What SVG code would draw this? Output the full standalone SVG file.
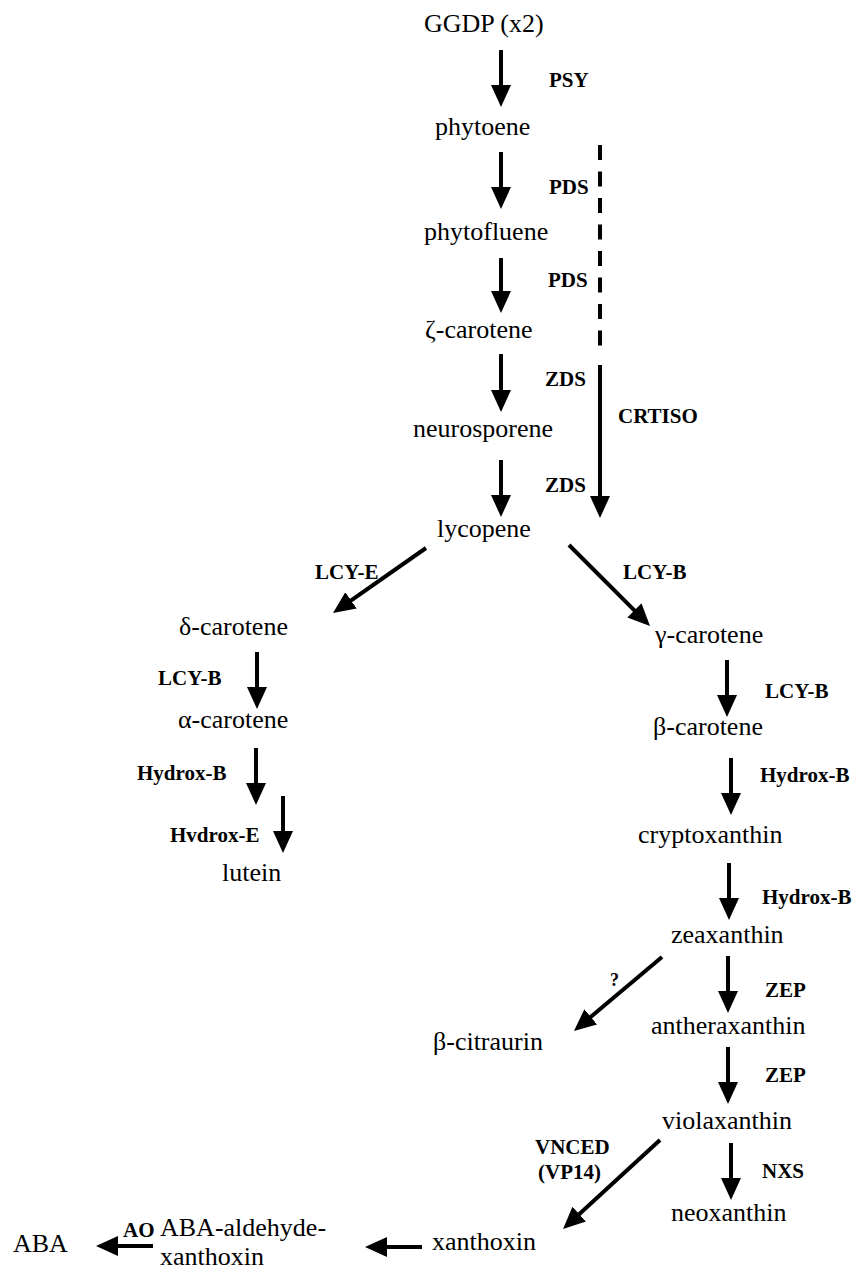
<svg xmlns="http://www.w3.org/2000/svg" width="855" height="1269" viewBox="0 0 855 1269">
<style>
.n{font-family:"Times New Roman","Liberation Serif","Tinos","DejaVu Serif",serif;font-size:26px;font-weight:normal;font-style:normal;fill:#000}
.e{font-family:"Times New Roman","Liberation Serif","Tinos","DejaVu Serif",serif;font-size:21px;font-weight:bold;fill:#000}
.a{stroke:#000;stroke-width:4;fill:none;marker-end:url(#ah)}
.d{stroke:#000;stroke-width:4;fill:none;stroke-dasharray:15 11.5}
</style>
<defs>
<marker id="ah" markerUnits="userSpaceOnUse" markerWidth="22" markerHeight="20" refX="12" refY="10" orient="auto">
<path d="M0,0 L22,10 L0,20 z" fill="#000"/>
</marker>
</defs>
<rect width="855" height="1269" fill="#fff"/>
<g id="connectors">
<line class="a" x1="501" y1="50" x2="501" y2="97"/>
<line class="a" x1="501" y1="152" x2="501" y2="199"/>
<line class="a" x1="501" y1="258" x2="501" y2="303"/>
<line class="a" x1="501" y1="354" x2="501" y2="402"/>
<line class="a" x1="501" y1="460" x2="501" y2="507"/>
<line class="d" x1="600" y1="145" x2="600" y2="350"/>
<line class="a" x1="600" y1="365" x2="600" y2="508"/>
<line class="a" x1="426" y1="548" x2="341.2" y2="607.3"/>
<line class="a" x1="569" y1="545" x2="642.9" y2="618.9"/>
<line class="a" x1="257" y1="652" x2="257" y2="699"/>
<line class="a" x1="256" y1="748" x2="256" y2="795"/>
<line class="a" x1="283" y1="796" x2="283" y2="843"/>
<line class="a" x1="727" y1="660" x2="727" y2="707"/>
<line class="a" x1="731" y1="758" x2="731" y2="805"/>
<line class="a" x1="729" y1="863" x2="729" y2="910"/>
<line class="a" x1="728" y1="956" x2="728" y2="1003"/>
<line class="a" x1="662" y1="957" x2="581.6" y2="1024.6"/>
<line class="a" x1="728" y1="1047" x2="728" y2="1094"/>
<line class="a" x1="731" y1="1143" x2="731" y2="1190"/>
<line class="a" x1="660" y1="1140" x2="570.4" y2="1222.2"/>
<line class="a" x1="422" y1="1247" x2="375" y2="1247"/>
<line class="a" x1="153" y1="1246" x2="106" y2="1246"/>
</g>
<g id="ggdp"><text class="n" x="424" y="32">GGDP (x2)</text></g>
<g id="phytoene"><text class="n" x="435" y="135">phytoene</text></g>
<g id="phytofluene"><text class="n" x="424" y="240">phytofluene</text></g>
<g id="zeta-carotene"><text class="n" x="425" y="338">ζ-carotene</text></g>
<g id="neurosporene"><text class="n" x="413" y="437">neurosporene</text></g>
<g id="lycopene"><text class="n" x="437" y="537">lycopene</text></g>
<g id="delta-carotene"><text class="n" x="179" y="635">δ-carotene</text></g>
<g id="alpha-carotene"><text class="n" x="178" y="728">α-carotene</text></g>
<g id="lutein"><text class="n" x="222" y="881">lutein</text></g>
<g id="gamma-carotene"><text class="n" x="655" y="643">γ-carotene</text></g>
<g id="beta-carotene"><text class="n" x="653" y="735">β-carotene</text></g>
<g id="cryptoxanthin"><text class="n" x="638" y="843">cryptoxanthin</text></g>
<g id="zeaxanthin"><text class="n" x="671" y="943">zeaxanthin</text></g>
<g id="antheraxanthin"><text class="n" x="651" y="1034">antheraxanthin</text></g>
<g id="beta-citraurin"><text class="n" x="433" y="1050">β-citraurin</text></g>
<g id="violaxanthin"><text class="n" x="662" y="1129">violaxanthin</text></g>
<g id="neoxanthin"><text class="n" x="671" y="1221">neoxanthin</text></g>
<g id="xanthoxin"><text class="n" x="432" y="1250">xanthoxin</text></g>
<g id="aba-aldehyde"><text class="n" x="160" y="1236">ABA-aldehyde-</text><text class="n" x="160" y="1265">xanthoxin</text></g>
<g id="aba"><text class="n" x="13" y="1252">ABA</text></g>
<g id="labels">
<text class="e" x="549" y="87">PSY</text>
<text class="e" x="549" y="194">PDS</text>
<text class="e" x="548" y="287">PDS</text>
<text class="e" x="545" y="386">ZDS</text>
<text class="e" x="545" y="492">ZDS</text>
<text class="e" x="618" y="423">CRTISO</text>
<text class="e" x="315" y="579">LCY-E</text>
<text class="e" x="623" y="579">LCY-B</text>
<text class="e" x="158" y="685">LCY-B</text>
<text class="e" x="137" y="780">Hydrox-B</text>
<text class="e" x="170" y="842">Hvdrox-E</text>
<text class="e" x="765" y="698">LCY-B</text>
<text class="e" x="760" y="782">Hydrox-B</text>
<text class="e" x="762" y="904">Hydrox-B</text>
<text class="e" x="610" y="986" style="font-size:18px">?</text>
<text class="e" x="765" y="997">ZEP</text>
<text class="e" x="765" y="1082">ZEP</text>
<text class="e" x="535" y="1154">VNCED</text>
<text class="e" x="538" y="1179">(VP14)</text>
<text class="e" x="762" y="1178">NXS</text>
<text class="e" x="123" y="1237">AO</text>
</g>
</svg>
